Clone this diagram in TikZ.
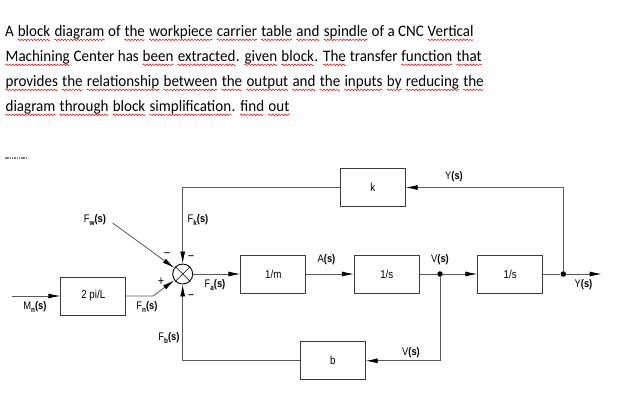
\documentclass[tikz,border=0pt]{standalone}
\usepackage{fontspec}
\setmainfont[FakeStretch=0.94]{Carlito}
\newfontfamily\lf[FakeStretch=0.85]{Liberation Sans}
\usetikzlibrary{arrows.meta,decorations.pathmorphing}
\definecolor{lc}{HTML}{5A5A5A}
\definecolor{bc}{HTML}{3C3C3C}
\newcommand\sig[2]{#1\raisebox{-2.4pt}{\fontsize{7.5}{7.5}\selectfont\bfseries #2}\textbf{(s)}}
\newcommand\sg[1]{#1\textbf{(s)}}
\newcommand\rw[1]{\tikz[baseline=(w.base)]{\node[inner sep=0pt,anchor=base west] (w) at (0,0) {#1};
  \draw[red,line width=0.5pt,decorate,decoration={snake,amplitude=0.8pt,segment length=3.2pt}]
    ([yshift=-3.8pt]w.base west) -- ([yshift=-3.8pt]w.base east);}}
\begin{document}
\begin{tikzpicture}[x=1pt,y=-1pt,
  ln/.style={draw=lc, line width=0.8pt},
  bx/.style={draw=bc, line width=0.8pt, minimum width=65pt, minimum height=38pt, inner sep=0pt, font=\lf\fontsize{11.5}{12}\selectfont},
  tip/.style={-{Latex[length=12pt,width=5pt,color=black]}},
  lb/.style={font=\lf\fontsize{11}{12}\selectfont, inner sep=0pt},
  sgn/.style={font=\lf\fontsize{13}{13}\selectfont, inner sep=0pt},
  ttl/.style={anchor=base west, inner sep=0pt, font=\fontsize{16}{20}\selectfont},
  dot/.style={circle, fill=black, inner sep=0pt, minimum size=5.5pt}]
\useasboundingbox (0,0) rectangle (631,416);
% title
\node[ttl] (t1) at (5,36) {A \rw{block} \rw{diagram} of \rw{the} \rw{workpiece} \rw{carrier} \rw{table} \rw{and} \rw{spindle} of a CNC \rw{Vertical}};
\node[ttl] (t2) at (5,61) {\rw{Machining} Center has \rw{been} \rw{extracted}. \rw{given} \rw{block}. \rw{The} transfer \rw{function} \rw{that}};
\node[ttl] (t3) at (5,86) {\rw{provides} \rw{the} \rw{relationship} \rw{between} \rw{the} \rw{output} \rw{and} \rw{the} \rw{inputs} \rw{by} \rw{reducing} \rw{the}};
\node[ttl] (t4) at (5,111) {\rw{diagram} \rw{through} \rw{block} \rw{simplification}. \rw{find} \rw{out}};
% small mark
\draw[gray, line width=1.5pt, dash pattern=on 1.5pt off 0.8pt] (5,158) -- (28,158);
% blocks
\node[bx] (pi) at (93.3,296) {2 pi/L};
\node[bx] (m) at (273.3,274) {1/m};
\node[bx] (s1) at (386.8,274) {1/s};
\node[bx] (s2) at (510.2,274) {1/s};
\node[bx] (k) at (372.8,187.5) {k};
\node[bx] (b) at (332.8,360.8) {b};
\node[circle, draw=black, line width=0.9pt, minimum size=20pt, inner sep=0pt] (S) at (182.7,274) {};
\draw[line width=0.6pt] (S.north east) -- (S.south west) (S.north west) -- (S.south east);
\node[dot] (V) at (440,274) {};
\node[dot] (Y) at (563.3,274) {};
\coordinate (in) at (12,296);
\coordinate (out) at (601.7,274);
\coordinate (fn) at (153,296);
\coordinate (fw) at (112.7,223);
% connectors
\draw[ln,tip] (in) -- (pi);
\draw[ln,tip] (pi.east) -- (fn) -- (S);
\draw[ln,tip] (fw) -- (S);
\draw[ln,tip] (S) -- (m);
\draw[ln,tip] (m) -- (s1);
\draw[ln] (s1) -- (V);
\draw[ln,tip] (V) -- (s2);
\draw[ln] (s2) -- (Y);
\draw[ln,tip] (Y) -- (out);
\draw[ln,tip] (Y) |- (k);
\draw[ln,tip] (k) -| (S);
\draw[ln,tip] (V) |- (b);
\draw[ln,tip] (b) -| (S);
% labels
\node[lb] at (95,220) {\sig{F}{w}};
\node[lb] at (198,220) {\sig{F}{k}};
\node[lb] at (147,307) {\sig{F}{n}};
\node[lb] at (169,338) {\sig{F}{b}};
\node[lb] at (215,285) {\sig{F}{a}};
\node[lb] at (35,307) {\sig{M}{n}};
\node[lb] at (326.5,260) {\sg{A}};
\node[lb] at (440,260) {\sg{V}};
\node[lb] at (411,353) {\sg{V}};
\node[lb] at (454,177) {\sg{Y}};
\node[lb] at (583.5,285) {\sg{Y}};
\node[sgn] at (167,255) {−};
\node[sgn] at (191,258) {−};
\node[sgn] at (191,297) {−};
\node[sgn] at (161,282) {+};
\end{tikzpicture}
\end{document}
